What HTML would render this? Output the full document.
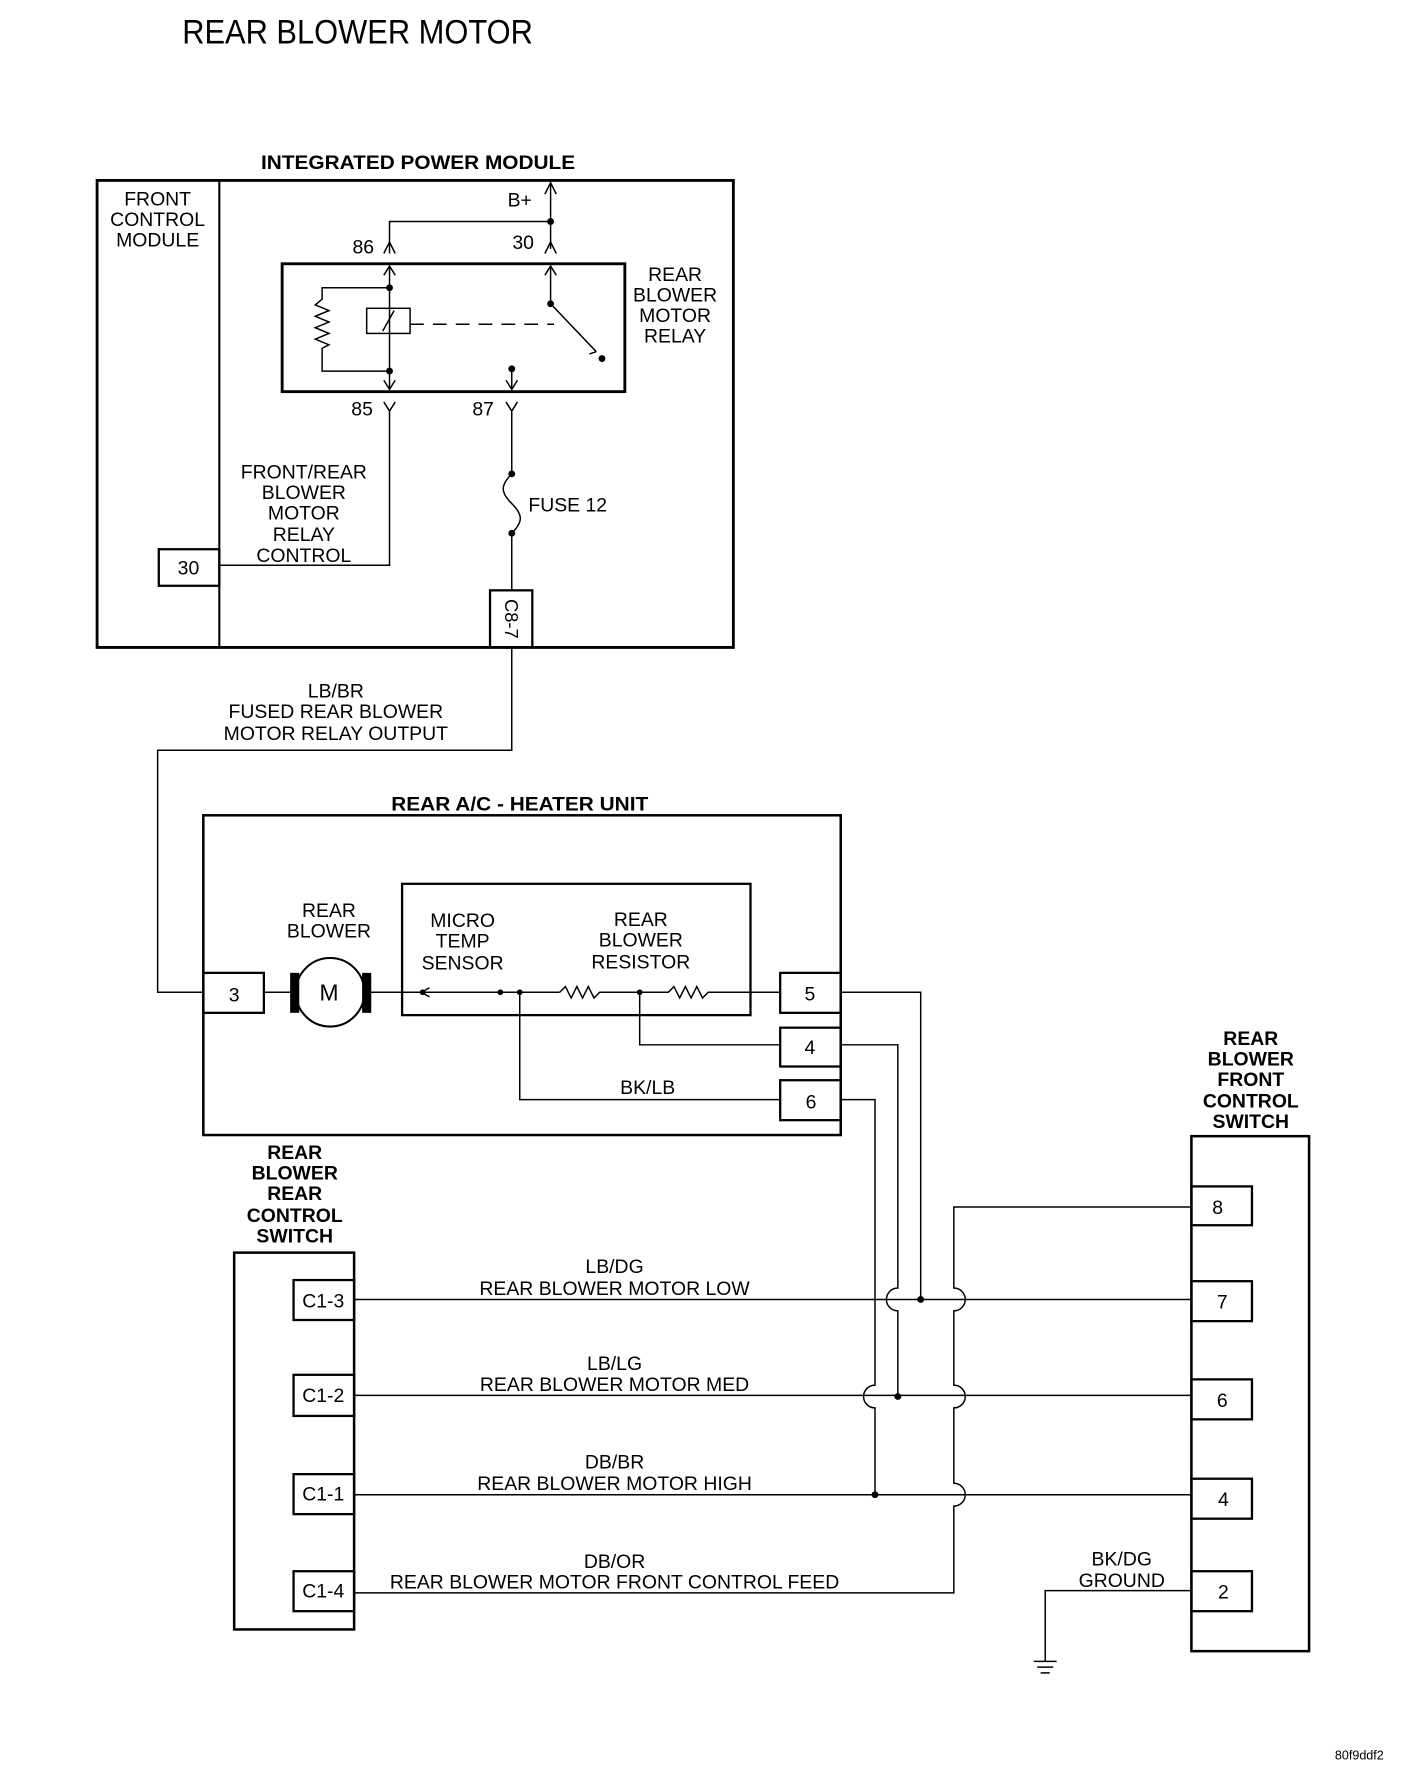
<!DOCTYPE html>
<html><head><meta charset="utf-8"><style>html,body{margin:0;padding:0;background:#fff}svg{display:block}</style></head>
<body>
<svg width="1408" height="1790" viewBox="0 0 1232.6 1567.6" preserveAspectRatio="none" xmlns="http://www.w3.org/2000/svg" font-family="Liberation Sans, Arial, sans-serif">
<rect width="1240" height="1577" fill="#fff"/>
<g fill="#000" text-anchor="middle" font-size="17">
<text x="313" y="38" font-size="30" textLength="307" lengthAdjust="spacingAndGlyphs">REAR BLOWER MOTOR</text>
<g font-weight="bold"><text x="366" y="148" textLength="275" lengthAdjust="spacingAndGlyphs">INTEGRATED POWER MODULE</text>
<text x="455" y="710" textLength="225" lengthAdjust="spacingAndGlyphs">REAR A/C - HEATER UNIT</text>
<text x="258" y="1015">REAR</text><text x="258" y="1033">BLOWER</text><text x="258" y="1051">REAR</text><text x="258" y="1070">CONTROL</text><text x="258" y="1088">SWITCH</text>
<text x="1095" y="915">REAR</text><text x="1095" y="933">BLOWER</text><text x="1095" y="951">FRONT</text><text x="1095" y="970">CONTROL</text><text x="1095" y="988">SWITCH</text></g>
<text x="138" y="180">FRONT</text><text x="138" y="198">CONTROL</text><text x="138" y="216">MODULE</text>
<text x="165" y="503">30</text>
<text x="455" y="181">B+</text><text x="318" y="222">86</text><text x="458" y="218">30</text>
<text x="317" y="364">85</text><text x="423" y="364">87</text>
<text x="591" y="246">REAR</text><text x="591" y="264">BLOWER</text><text x="591" y="282">MOTOR</text><text x="591" y="300">RELAY</text>
<text x="497" y="448">FUSE 12</text>
<text x="266" y="419">FRONT/REAR</text><text x="266" y="437">BLOWER</text><text x="266" y="455">MOTOR</text><text x="266" y="474">RELAY</text><text x="266" y="492">CONTROL</text>
<text x="448" y="542" transform="rotate(90 448 542)" font-size="16" dy="6">C8-7</text>
<text x="294" y="611">LB/BR</text><text x="294" y="629">FUSED REAR BLOWER</text><text x="294" y="648">MOTOR RELAY OUTPUT</text>
<text x="288" y="803">REAR</text><text x="288" y="821">BLOWER</text>
<text x="405" y="812">MICRO</text><text x="405" y="830">TEMP</text><text x="405" y="849">SENSOR</text>
<text x="561" y="811">REAR</text><text x="561" y="829">BLOWER</text><text x="561" y="848">RESISTOR</text>
<text x="205" y="877">3</text><text x="288" y="876" font-size="20">M</text>
<text x="709" y="876">5</text><text x="709" y="923">4</text><text x="710" y="971">6</text>
<text x="567" y="958">BK/LB</text>
<text x="283" y="1145">C1-3</text><text x="283" y="1228">C1-2</text><text x="283" y="1314">C1-1</text><text x="283" y="1399">C1-4</text>
<text x="1066" y="1063">8</text><text x="1070" y="1146">7</text><text x="1070" y="1232">6</text><text x="1071" y="1319">4</text><text x="1071" y="1400">2</text>
<text x="538" y="1115">LB/DG</text><text x="538" y="1134">REAR BLOWER MOTOR LOW</text>
<text x="538" y="1200">LB/LG</text><text x="538" y="1218">REAR BLOWER MOTOR MED</text>
<text x="538" y="1286">DB/BR</text><text x="538" y="1305">REAR BLOWER MOTOR HIGH</text>
<text x="538" y="1373">DB/OR</text><text x="538" y="1391">REAR BLOWER MOTOR FRONT CONTROL FEED</text>
<text x="982" y="1371">BK/DG</text><text x="982" y="1390">GROUND</text>
<text x="1190" y="1541" font-size="11">80f9ddf2</text>
</g>
<g fill="none" stroke="#000" stroke-width="1.3">
<rect x="85" y="158" width="557" height="409" stroke-width="2.5"/>
<line x1="192" y1="158" x2="192" y2="567" stroke-width="1.8"/>
<rect x="139" y="481" width="53" height="32" stroke-width="2"/>
<path d="M482 160V218M341 222V194H482"/>
<path d="M477 170l5-10l5 10M336 222l5-10l5 10M477 222l5-10l5 10"/>
<rect x="247" y="231" width="300" height="112" stroke-width="2.5"/>
<path d="M341 233V341M336 241l5-8l5 8M336 333l5 8l5-8"/>
<path d="M482 233V266L522 308M477 241l5-8l5 8M522 308l-6 2"/>
<path d="M341 252H282V262l-6 5l12 5l-12 5l12 5l-12 5l12 5l-12 5l12 5l-6 3V325H341"/>
<rect x="321" y="270" width="38" height="22"/><path d="M335 290l10-18"/>
<path d="M359 284H485" stroke-dasharray="12 8"/>
<path d="M448 323V341M443 333l5 8l5-8"/>
<path d="M336 352l5 8l5-8M443 352l5 8l5-8"/>
<path d="M341 360V495H192M448 360V415"/>
<path d="M448 415c-10 10-10 16 0 26c10 10 10 16 0 26"/>
<path d="M448 467V517"/>
<rect x="429" y="517" width="37" height="50" stroke-width="2"/>
<path d="M448 567V657H138V869H178"/>
<rect x="178" y="714" width="558" height="280" stroke-width="2.2"/>
<rect x="352" y="774" width="305" height="115" stroke-width="2"/>
<rect x="178" y="852" width="53" height="35" stroke-width="2"/>
<path d="M231 869H255M324 869H490M376 865l-7 4l7 4"/>
<circle cx="289" cy="869" r="30" stroke-width="1.8"/>
<path d="M490 869l5-5l5 10l5-10l5 10l5-10l5 10l5-5H585l5-5l5 10l5-10l5 10l5-10l5 10l5-5H683"/>
<path d="M560 869V915H683M455 869V963H683"/>
<rect x="683" y="852" width="53" height="35" stroke-width="2"/>
<rect x="683" y="900" width="53" height="34" stroke-width="2"/>
<rect x="683" y="946" width="53" height="35" stroke-width="2"/>
<path d="M736 869H806V1138"/>
<path d="M736 915H786V1128a10 10 0 0 0 0 20V1223"/>
<path d="M736 963H766V1213a10 10 0 0 0 0 20V1309"/>
<path d="M1043 1057H835V1128a10 10 0 0 1 0 20V1213a10 10 0 0 1 0 20V1299a10 10 0 0 1 0 20V1395H310"/>
<path d="M310 1138H1043M310 1222H1043M310 1309H1043M1043 1393H915V1455"/>
<path d="M905 1455H925M908 1460H922M911 1465H919"/>
<rect x="205" y="1097" width="105" height="330" stroke-width="2.2"/>
<rect x="257" y="1121" width="53" height="35" stroke-width="2"/>
<rect x="257" y="1204" width="53" height="36" stroke-width="2"/>
<rect x="257" y="1291" width="53" height="35" stroke-width="2"/>
<rect x="257" y="1376" width="53" height="35" stroke-width="2"/>
<rect x="1043" y="995" width="103" height="451" stroke-width="2.2"/>
<rect x="1043" y="1039" width="53" height="34" stroke-width="2"/>
<rect x="1043" y="1122" width="53" height="35" stroke-width="2"/>
<rect x="1043" y="1208" width="53" height="35" stroke-width="2"/>
<rect x="1043" y="1295" width="53" height="35" stroke-width="2"/>
<rect x="1043" y="1376" width="53" height="35" stroke-width="2"/>
</g>
<g fill="#000">
<rect x="254" y="852" width="8" height="35"/><rect x="317" y="852" width="8" height="35"/>
<circle cx="482" cy="194" r="3"/><circle cx="341" cy="252" r="3"/><circle cx="341" cy="325" r="3"/>
<circle cx="482" cy="266" r="3"/><circle cx="527" cy="314" r="3"/><circle cx="448" cy="323" r="3"/>
<circle cx="448" cy="415" r="3"/><circle cx="448" cy="467" r="3"/>
<circle cx="370" cy="869" r="2.5"/><circle cx="438" cy="869" r="2.5"/><circle cx="455" cy="869" r="2.5"/><circle cx="560" cy="869" r="2.5"/>
<circle cx="806" cy="1138" r="3"/><circle cx="786" cy="1223" r="3"/><circle cx="766" cy="1309" r="3"/>
</g>
</svg>
</body></html>
